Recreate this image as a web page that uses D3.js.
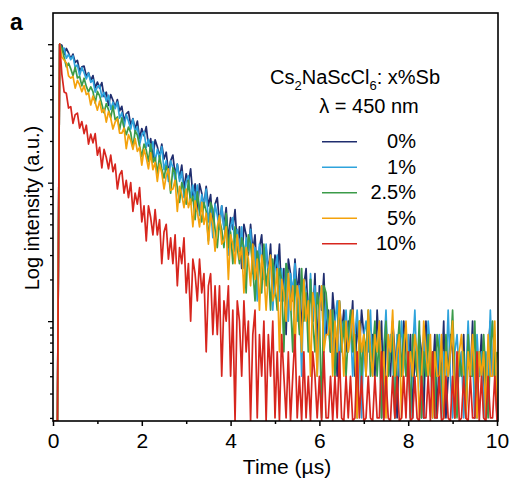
<!DOCTYPE html>
<html>
<head>
<meta charset="utf-8">
<script src="https://cdn.jsdelivr.net/npm/d3@7"></script>
<style>
body { margin: 0; background: #fff; }
text { font-family: Arial, "Liberation Sans", sans-serif; fill: #000; }
</style>
</head>
<body>
<script>
//photon counts per 0.05 us bin (peak = 500 counts)
var binWidth = 0.05;
var peakCounts = 500;

var counts0 = [0,0,0,500,
491,420,466,432,393,424,369,382,319,343,
347,294,311,274,297,242,266,241,264,209,
225,181,216,197,175,199,165,178,139,157,
163,130,145,122,139,104,123,109,127,92,
104,75,102,91,77,95,74,83,59,72,
79,57,68,54,67,45,58,50,63,40,
49,31,49,42,34,47,34,41,24,35,
39,25,34,24,33,19,28,23,32,17,
24,12,25,21,15,25,16,21,10,17,
21,11,17,11,18,8,15,11,18,7,
12,4,14,11,7,14,8,12,4,9,
12,5,10,5,11,3,9,6,11,4,
6,3,8,5,2,7,4,6,3,5,
4,7,2,5,3,6,4,2,5,3,
4,2,6,3,5,1,4,3,2,5,
3,1,4,2,5,3,2,4,1,3,
2,4,3,1,5,2,3,2,4,1,
3,2,5,1,2,4,3,1,2,3,
2,4,1,3,2,5,1,3,2,4,
2,1,3,5,2,3,1];

var counts1 = [0,0,0,500,
446,469,396,422,387,412,339,355,297,339,
311,281,309,265,277,225,247,252,208,224,
194,214,169,190,171,191,146,160,125,155,
139,122,144,116,127,94,111,117,90,103,
84,99,71,87,75,91,62,72,51,72,
64,52,68,51,60,39,51,56,38,48,
37,48,29,41,34,45,26,34,20,35,
29,23,34,23,29,15,24,28,16,23,
16,24,12,20,16,23,11,17,7,18,
14,10,18,10,15,6,12,15,7,12,
7,13,5,11,8,13,5,9,2,10,
8,5,11,5,9,2,7,9,3,7,
4,6,3,5,7,2,5,4,6,3,
5,2,4,6,3,1,4,5,3,6,
2,4,3,5,1,3,6,2,4,3,
1,4,2,5,3,2,4,1,3,6,
2,3,1,4,2,5,3,1,3,2,
4,1,3,2,6,2,1,3,4,2,
3,1,2,5,2,3,1,4,2,3,
1,3,2,6,2,4,1];

var counts25 = [0,0,0,500,
473,402,344,365,332,296,341,285,292,250,
284,248,226,246,227,188,228,212,184,160,
186,168,147,179,142,149,121,147,125,111,
126,115,89,119,110,92,77,95,86,71,
95,70,76,58,78,63,54,66,59,42,
64,59,46,36,50,44,35,52,35,40,
27,43,32,26,36,31,19,36,32,23,
17,27,23,17,30,17,22,13,24,17,
13,20,17,8,21,18,12,7,16,13,
8,18,9,12,6,14,9,6,12,10,
3,13,11,7,3,10,7,4,12,5,
8,3,10,5,3,8,6,1,9,8,
5,3,6,2,4,7,3,5,2,4,
6,3,4,1,5,2,4,3,6,2,
3,5,2,4,1,3,5,2,3,4,
1,3,5,2,4,2,3,1,4,3,
2,5,1,3,2,4,2,3,1,4,
3,2,1,4,2,3,6,2,1,3,
2,3,1,4,2,2,5,1,3,2,
4,2,1,3,5,2,3];

var counts5 = [0,0,0,500,
403,385,366,295,284,293,241,274,254,227,
251,216,222,182,211,190,167,194,161,170,
137,163,146,122,137,145,114,114,124,88,
111,101,87,104,84,90,67,87,76,63,
82,62,70,51,68,59,45,56,63,44,
45,52,31,47,41,33,45,33,38,24,
37,31,24,36,25,30,18,30,25,16,
24,29,18,19,24,10,21,18,13,21,
14,17,8,17,14,9,18,10,14,6,
15,11,6,11,15,7,8,12,3,10,
8,5,11,6,9,3,9,7,3,10,
5,7,2,8,6,2,6,9,3,4,
4,6,2,5,3,7,4,2,5,3,
4,6,3,1,5,3,4,2,6,3,
2,4,3,5,2,3,1,4,3,6,
2,3,4,1,3,5,2,3,2,4,
3,1,2,5,3,2,4,1,3,2,
2,4,1,3,2,3,5,1,2,3,
4,2,1,3,2,4,2,1,3,2,
3,1,4,2,2,5,1];

var counts10 = [0,0,0,500,
303,226,221,173,177,134,
155,159,124,138,113,130,95,112,97,113,
79,90,64,87,76,63,79,60,68,45,
57,61,42,52,39,50,31,42,35,46,
26,34,19,34,28,21,32,21,27,13,
22,25,14,20,13,21,9,17,13,20,
8,13,5,14,11,7,14,8,11,3,
9,11,4,9,4,9,2,7,5,9,
2,6,0,7,5,2,7,3,5,0,
4,6,1,4,2,5,0,4,2,5,
1,3,0,4,
2,1,3,0,2,4,1,2,0,3,1,2,0,3,2,1,2,0,3,1,
1,2,0,2,1,3,1,0,2,1,
2,0,1,3,1,2,0,1,2,1,
0,2,1,1,3,0,2,1,0,2,
1,2,0,1,2,1,3,0,1,2,
1,0,2,1,1,2,0,3,1,1,
2,0,1,2,1,0,2,1,3,0,
1,2,1,0,2,1,1,3,0,2,
1,0,2,1,1,2,0];

var seriesNames = ["0%", "1%", "2.5%", "5%", "10%"];
var seriesCounts = [counts0, counts1, counts25, counts5, counts10];
var seriesColors = ["#1f2d6e", "#2ea3dc", "#3b9b49", "#f4a20c", "#d7261e"];
var xTickValues = [0, 1, 2, 3, 4, 5, 6, 7, 8, 9, 10];

var width = 510,
    height = 478;

var svg = d3.select("body")
    .append("svg")
    .attr("width", width)
    .attr("height", height);

//frame edges (note: "top" is taken by window.top)
var plotLeft = 53, plotRight = 498, plotTop = 13, plotBottom = 421;

var x = d3.scaleLinear().domain([0, 10]).range([53, 497]);
var y = d3.scaleLog().domain([0.0019, 1.68]).range([plotBottom, plotTop]).clamp(true);

//clip the noisy curves to the frame
svg.append("clipPath").attr("id", "plotclip")
    .append("rect")
    .attr("x", plotLeft).attr("y", plotTop)
    .attr("width", plotRight - plotLeft).attr("height", plotBottom - plotTop);

var line = d3.line()
    .x(function(d, i) { return x(i * binWidth); })
    .y(function(d) { return y(Math.max(d / peakCounts, 0.0019)); });

//thick strokes so the dense noise reads as a band, like the original trace
var curves = svg.append("g").attr("clip-path", "url(#plotclip)");
seriesCounts.forEach(function(counts, s) {
    curves.append("path")
        .datum(counts)
        .attr("fill", "none")
        .attr("stroke", seriesColors[s])
        .attr("stroke-width", 1.7)
        .attr("stroke-linejoin", "round")
        .attr("d", line);
});

//x axis, labels only on even values
var xAxis = svg.append("g")
    .attr("transform", "translate(0," + plotBottom + ")")
    .call(d3.axisBottom(x).tickValues(xTickValues).tickSize(5).tickPadding(7)
        .tickFormat(function(d) { return d % 2 === 0 ? d : ""; }));
xAxis.select(".domain").remove();
xAxis.selectAll(".tick line")
    .attr("stroke", "#000").attr("stroke-width", 1.5)
    .attr("y2", function(d) { return d % 2 === 0 ? 5 : 3; });
xAxis.selectAll(".tick text")
    .style("font-size", "21px")
    .style("font-family", "Arial, 'Liberation Sans', sans-serif")
    .attr("fill", "#000");

//log y axis, ticks only
var yAxis = svg.append("g")
    .attr("transform", "translate(" + plotLeft + ",0)")
    .call(d3.axisLeft(y).tickValues(y.ticks()).tickFormat(""));
yAxis.select(".domain").remove();
yAxis.selectAll(".tick line")
    .attr("stroke", "#000").attr("stroke-width", 1.3)
    .attr("x2", function(d) {
        var e = Math.log10(d);
        return Math.abs(e - Math.round(e)) < 1e-6 ? -5 : -3;
    });

//frame
svg.append("rect")
    .attr("x", plotLeft).attr("y", plotTop)
    .attr("width", plotRight - plotLeft).attr("height", plotBottom - plotTop)
    .attr("fill", "none")
    .attr("stroke", "#000")
    .attr("stroke-width", 1.6);

//axis titles
svg.append("text")
    .attr("transform", "translate(39,208) rotate(-90)")
    .attr("text-anchor", "middle")
    .style("font-size", "20px")
    .text("Log intensity (a.u.)");

svg.append("text")
    .attr("x", 287).attr("y", 474)
    .attr("text-anchor", "middle")
    .style("font-size", "21px")
    .text("Time (\u00b5s)");

svg.append("text")
    .attr("x", 10).attr("y", 30)
    .style("font-size", "23px")
    .style("font-weight", "bold")
    .text("a");

//legend
var title = svg.append("text")
    .attr("x", 270).attr("y", 84)
    .style("font-size", "20px");
title.append("tspan").text("Cs");
title.append("tspan").attr("dy", 6).style("font-size", "13px").text("2");
title.append("tspan").attr("dy", -6).text("NaScCl");
title.append("tspan").attr("dy", 6).style("font-size", "13px").text("6");
title.append("tspan").attr("dy", -6).text(": x%Sb");

svg.append("text")
    .attr("x", 369).attr("y", 113)
    .attr("text-anchor", "middle")
    .style("font-size", "20px")
    .text("\u03bb = 450 nm");

var legend = svg.append("g");
seriesNames.forEach(function(name, s) {
    var ly = 141.7 + s * 25.5;
    legend.append("line")
        .attr("x1", 322).attr("x2", 357)
        .attr("y1", ly).attr("y2", ly)
        .attr("stroke", seriesColors[s])
        .attr("stroke-width", 1.5);
    legend.append("text")
        .attr("x", 416).attr("y", ly + 6.5)
        .attr("text-anchor", "end")
        .style("font-size", "20px")
        .text(name);
});
</script>
</body>
</html>
